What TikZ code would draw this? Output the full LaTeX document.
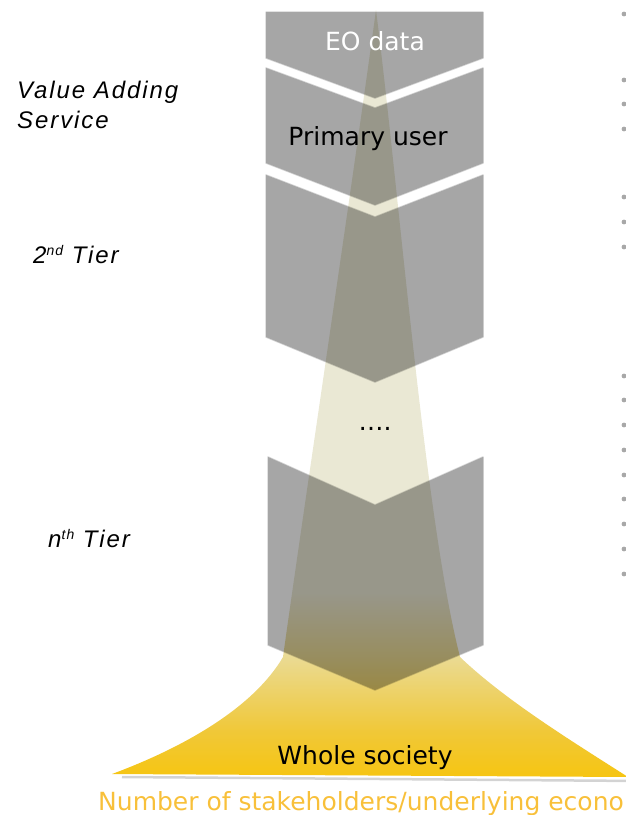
\documentclass[tikz,border=0pt]{standalone}
\usepackage{fontspec}
\setmainfont{DejaVu Sans}
\newfontfamily\labfont[LetterSpace=8]{Liberation Sans}
\definecolor{blockgray}{HTML}{A6A6A6}
\definecolor{beamb}{HTML}{EAE8D4}
\definecolor{beamy}{HTML}{EADB96}
\definecolor{beamg}{HTML}{F0C838}
\definecolor{goldc}{HTML}{F6C512}
\definecolor{numtxt}{HTML}{F8C03A}
\definecolor{dotgray}{HTML}{A8A8A8}
\pgfdeclareverticalshading{beamshade}{100bp}{color(0bp)=(goldc); color(25bp)=(goldc); color(28bp)=(beamg); color(33bp)=(beamy); color(37bp)=(beamb); color(100bp)=(beamb)}
\begin{document}
\begin{tikzpicture}[x=1pt,y=-1pt,
  block/.style={fill=blockgray, draw=blockgray, draw opacity=0.5, line width=1.5pt, line join=round},
  bigtxt/.style={anchor=base, inner sep=0pt, font=\fontsize{25}{25}\selectfont},
  sidelab/.style={anchor=base west, inner sep=0pt, font=\labfont\itshape\fontsize{24}{24}\selectfont}]
\useasboundingbox (0,0) rectangle (625,815);
% blocks
\path[block] (266,12) -- (483,12) -- (483,58) -- (375,98) -- (266,58) -- cycle;
\path[block] (266,68) -- (375,108) -- (483,68) -- (483,163) -- (375,205) -- (266,163) -- cycle;
\path[block] (266,175) -- (375,217) -- (483,175) -- (483,337) -- (375,382) -- (266,337) -- cycle;
\path[block] (268,457) -- (375,505) -- (483,457) -- (483,645) -- (375,690) -- (268,645) -- cycle;
% shadow of base
\draw[gray, opacity=0.35, line width=2.5pt] (122,777) -- (640,781);
% beam
\begin{scope}[blend mode=multiply]
\shade[shading=beamshade] (376,10) .. controls (350,200) and (305,500) .. (283,657)
  .. controls (255,705) and (190,745) .. (112,774) -- (628,777)
  .. controls (570,740) and (505,700) .. (460,657)
  .. controls (425,520) and (400,200) .. (376,10) -- cycle;
\end{scope}
% texts
\node[bigtxt, text=white] (eo) at (375,50) {EO data};
\node[bigtxt] (pu) at (368,145) {Primary user};
\node[bigtxt] (dots) at (375,430) {….};
\node[bigtxt] (ws) at (365,764) {Whole society};
\node[bigtxt, anchor=base west, text=numtxt] (num) at (98,810) {Number of stakeholders/underlying economy};
\node[sidelab] (vas1) at (17,98) {Value Adding};
\node[sidelab] (vas2) at (17,128) {Service};
\node[sidelab] (t2) at (33,263) {2\raisebox{0.6ex}{\fontsize{14}{14}\selectfont nd} Tier};
\node[sidelab] (tn) at (48,547) {n\raisebox{0.6ex}{\fontsize{14}{14}\selectfont th} Tier};
% bullets cut at right edge
\foreach \yy in {14,80,104,129,197,222,247,376,400,425,450,475,499,524,549,574}
  \fill[dotgray] (624,\yy) circle (2.4);
\end{tikzpicture}
\end{document}
